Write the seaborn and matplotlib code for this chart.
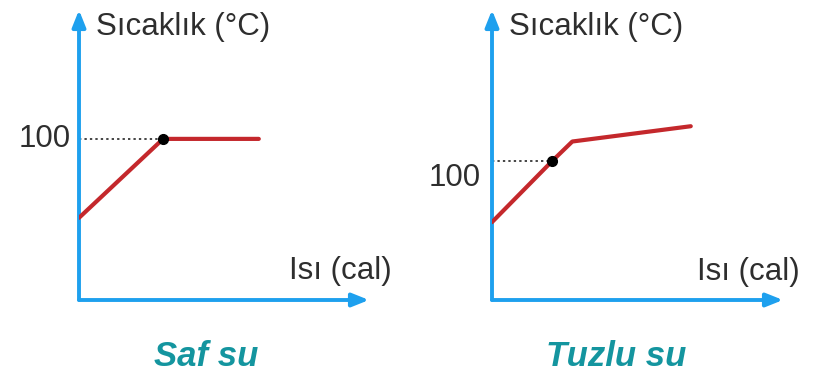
import matplotlib
matplotlib.use('Agg')
import matplotlib.pyplot as plt
import seaborn as sns

# Saf su (pure water): heat vs temperature
saf_heat = [0, 2.9, 6.2]
saf_temp = [51, 100, 100]
saf_dot = (2.9, 100)

# Tuzlu su (salt water)
tuzlu_heat = [0, 2.07, 2.76, 6.83]
tuzlu_temp = [56, 100, 114, 125]
tuzlu_dot = (2.07, 100)

titles = ["Saf su", "Tuzlu su"]
y_label = "Sıcaklık (°C)"
x_label = "Isı (cal)"
tick_label = "100"

BLUE = "#1ea0ee"
RED = "#c4282c"
TEAL = "#14959f"
TEXT = "#2e2e2e"

sns.set_style("white")
plt.rcParams['font.family'] = ['Liberation Sans', 'DejaVu Sans']

W, H = 826, 384
fig = plt.figure(figsize=(W / 100, H / 100), dpi=100)


def rect(x0, y0, x1, y1):
    # pixel box (top-left origin) -> figure fraction rect
    return [x0 / W, (H - y1) / H, (x1 - x0) / W, (y1 - y0) / H]


def fx(px):
    return px / W


def fy(py):
    return (H - py) / H


def draw_panel(ax, heat, temp, dot, ymax):
    ax.set_xlim(0, 10)
    ax.set_ylim(0, ymax)
    ax.axis('off')
    # axis arrows
    for end in [(1, 0), (0, 1)]:
        ax.annotate("", xy=end, xytext=(0, 0), xycoords='axes fraction',
                    arrowprops=dict(arrowstyle="-|>,head_length=1.0,head_width=0.4",
                                    color=BLUE, lw=2.8, shrinkA=0, shrinkB=0))
    ax.hlines(dot[1], 0, dot[0], colors="#444444", linestyles=(0, (1.2, 1.6)),
              lw=1.4, zorder=2)
    sns.lineplot(x=heat, y=temp, ax=ax, color=RED, linewidth=3.0, sort=False,
                 zorder=3)
    ax.plot([dot[0]], [dot[1]], 'o', color='black', markersize=7, zorder=4)


ax1 = fig.add_axes(rect(79, 10, 369, 300))
draw_panel(ax1, saf_heat, saf_temp, saf_dot, 180)

ax2 = fig.add_axes(rect(492, 10, 783, 300))
draw_panel(ax2, tuzlu_heat, tuzlu_temp, tuzlu_dot, 208.6)

label_kw = dict(fontsize=22.5, color=TEXT, va='center')
fig.text(fx(96), fy(27), y_label, ha='left', **label_kw)
fig.text(fx(509), fy(27), y_label, ha='left', **label_kw)
fig.text(fx(289), fy(271), x_label, ha='left', **label_kw)
fig.text(fx(697), fy(272), x_label, ha='left', **label_kw)
fig.text(fx(71), fy(139), tick_label, ha='right', **label_kw)
fig.text(fx(481), fy(178), tick_label, ha='right', **label_kw)

title_kw = dict(fontsize=25, color=TEAL, fontweight='bold', fontstyle='italic',
                ha='center', va='center')
fig.text(fx(206), fy(357), titles[0], **title_kw)
fig.text(fx(616), fy(357), titles[1], **title_kw)

fig.savefig("out.png", dpi=100)
plt.close(fig)
